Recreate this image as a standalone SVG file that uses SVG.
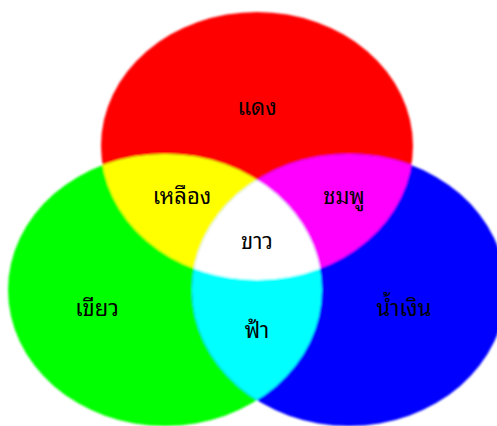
<svg xmlns="http://www.w3.org/2000/svg" width="497" height="426" viewBox="0 0 497 426">
  <style>
    .lbl { font-family: "Noto Sans Thai Looped", "Tahoma", "Loma", "Garuda", "Noto Sans Thai", "Noto Sans", "DejaVu Sans", sans-serif; font-size: 22px; font-weight: normal; fill: #000; text-anchor: middle; }
  </style>
  <defs>
    <filter id="soft" x="-5%" y="-5%" width="110%" height="110%">
      <feGaussianBlur stdDeviation="0.9"/>
    </filter>
    <clipPath id="clipR"><ellipse cx="257" cy="146" rx="156" ry="134"/></clipPath>
    <clipPath id="clipG"><ellipse cx="165" cy="290" rx="157" ry="136"/></clipPath>
    <clipPath id="clipRG" clip-path="url(#clipR)"><ellipse cx="165" cy="290" rx="157" ry="136"/></clipPath>
  </defs>
  <rect width="497" height="426" fill="#fff"/>
  <g filter="url(#soft)">
    <g id="red"><ellipse cx="257" cy="146" rx="156" ry="134" fill="#ff0000"/></g>
    <g id="green"><ellipse cx="165" cy="290" rx="157" ry="136" fill="#00ff00"/></g>
    <g id="blue"><ellipse cx="349" cy="290" rx="157" ry="136" fill="#0000ff"/></g>
    <g id="yellow"><ellipse cx="165" cy="290" rx="157" ry="136" fill="#ffff00" clip-path="url(#clipR)"/></g>
    <g id="magenta"><ellipse cx="349" cy="290" rx="157" ry="136" fill="#ff00ff" clip-path="url(#clipR)"/></g>
    <g id="cyan"><ellipse cx="349" cy="290" rx="157" ry="136" fill="#00ffff" clip-path="url(#clipG)"/></g>
    <g id="white"><ellipse cx="349" cy="290" rx="157" ry="136" fill="#ffffff" clip-path="url(#clipRG)"/></g>
  </g>
  <g id="labels">
    <text class="lbl" x="257" y="115">แดง</text>
    <text class="lbl" x="182" y="204">เหลือง</text>
    <text class="lbl" x="344" y="204">ชมพู</text>
    <text class="lbl" x="257" y="249">ขาว</text>
    <text class="lbl" x="97" y="316">เขียว</text>
    <text class="lbl" x="404" y="316">น้ำเงิน</text>
    <text class="lbl" x="257" y="338">ฟ้า</text>
  </g>
</svg>
